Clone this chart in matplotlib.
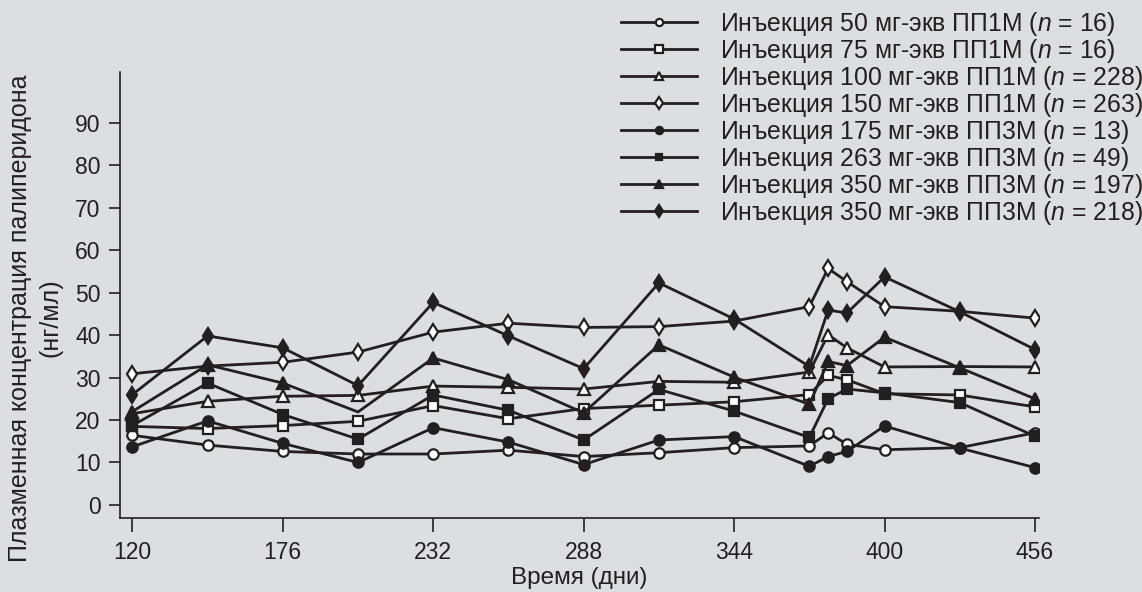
import matplotlib
matplotlib.use("Agg")
from matplotlib import pyplot as plt

plt.rcParams['font.family'] = ['Liberation Sans', 'DejaVu Sans']
plt.rcParams['mathtext.fontset'] = 'custom'
plt.rcParams['mathtext.it'] = 'Liberation Sans:italic'
plt.rcParams['mathtext.rm'] = 'Liberation Sans'

INK = '#231f20'
BG = '#dddee0'

# time points (days)
days = [120, 148, 176, 204, 232, 260, 288, 316, 344, 372, 379, 386, 400, 428, 456]

# plasma concentrations, ng/ml
pp1m_50 = [16.4, 14.1, 12.6, 12.0, 12.0, 12.9, 11.4, 12.3, 13.5, 13.9, 17.0, 14.3, 13.0, 13.5, 17.0]
pp1m_75 = [18.5, 18.0, 18.7, 19.7, 23.4, 20.3, 22.7, 23.5, 24.3, 26.0, 30.5, 29.5, 26.2, 25.9, 23.1]
pp1m_100 = [21.5, 24.4, 25.6, 25.8, 28.0, 27.7, 27.3, 29.1, 28.9, 31.3, 40.1, 37.0, 32.5, 32.6, 32.5]
pp1m_150 = [30.9, 32.7, 33.6, 36.0, 40.7, 42.8, 41.8, 42.0, 43.3, 46.7, 55.7, 52.6, 46.7, 45.6, 44.0]
pp3m_175 = [13.7, 19.8, 14.5, 10.0, 18.2, 14.8, 9.5, 15.3, 16.1, 9.1, 11.4, 12.6, 18.6, 13.4, 8.8]
pp3m_263 = [18.7, 28.7, 21.3, 15.5, 25.9, 22.3, 15.3, 27.2, 22.1, 15.9, 25.0, 27.3, 26.4, 24.1, 16.2]
pp3m_350 = [22.0, 33.0, 28.7, 21.9, 34.6, 29.5, 21.7, 37.7, 30.1, 23.7, 33.8, 32.8, 39.5, 32.3, 25.0]
pp3m_350b = [26.0, 39.8, 37.0, 28.1, 47.7, 39.8, 32.1, 52.3, 43.8, 32.6, 45.9, 45.2, 53.7, 45.5, 36.6]

labels = [
    'Инъекция 50 мг-экв ПП1М ($n$ = 16)',
    'Инъекция 75 мг-экв ПП1М ($n$ = 16)',
    'Инъекция 100 мг-экв ПП1М ($n$ = 228)',
    'Инъекция 150 мг-экв ПП1М ($n$ = 263)',
    'Инъекция 175 мг-экв ПП3М ($n$ = 13)',
    'Инъекция 263 мг-экв ПП3М ($n$ = 49)',
    'Инъекция 350 мг-экв ПП3М ($n$ = 197)',
    'Инъекция 350 мг-экв ПП3М ($n$ = 218)',
]
series = [pp1m_50, pp1m_75, pp1m_100, pp1m_150, pp3m_175, pp3m_263, pp3m_350, pp3m_350b]
markers = ['o', 's', '^', 'd', 'o', 's', '^', 'd']
open_marker = [True, True, True, True, False, False, False, False]
sizes = [7.5, 7.5, 8, 8.5, 7.5, 7, 8, 8.5]

fig = plt.figure(figsize=(11.42, 5.92), dpi=100, facecolor=BG)
ax = fig.add_axes([0.1051, 0.1255, 0.8047, 0.7532])
ax.set_facecolor(BG)

handles = []
for i in range(len(series)):
    every = None
    if i == 6:
        # no marker drawn at day 204 for this series
        every = [k for k in range(len(days)) if k != 3]
    h, = ax.plot(days, series[i], color=INK, lw=2.0, marker=markers[i],
                 ms=sizes[i], mfc='white' if open_marker[i] else INK,
                 mec=INK, mew=1.6, markevery=every, label=labels[i],
                 zorder=3 + i)
    handles.append(h)

ax.set_xlim(115.4, 457.5)
ax.set_ylim(-3.0, 102)
ax.set_xticks([120, 176, 232, 288, 344, 400, 456])
ax.set_yticks(range(0, 100, 10))

for s in ['top', 'right']:
    ax.spines[s].set_visible(False)
for s in ['left', 'bottom']:
    ax.spines[s].set_color(INK)
    ax.spines[s].set_linewidth(1.2)

ax.tick_params(axis='both', colors=INK, labelsize=16.5, width=1.2, direction='out')
ax.tick_params(axis='y', length=8, pad=6)
ax.tick_params(axis='x', length=10, pad=7)

ax.set_xlabel('Время (дни)', fontsize=17.5, color=INK, labelpad=2)
ax.set_ylabel('Плазменная концентрация палиперидона\n(нг/мл)', fontsize=18,
              color=INK, linespacing=1.3)
ax.yaxis.set_label_coords(-0.063, 0.448)

leg = fig.legend(handles=handles, loc='upper left', bbox_to_anchor=(0.535, 1.0),
                 frameon=False, fontsize=17.8, handlelength=3.1, handletextpad=0.9,
                 labelspacing=-0.04, borderaxespad=0, markerscale=0.7)
for t in leg.get_texts():
    t.set_color(INK)

fig.savefig('out.png', dpi=100, facecolor=BG)
